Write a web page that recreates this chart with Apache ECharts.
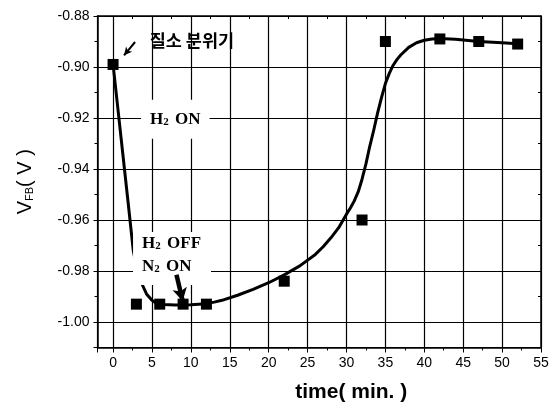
<!DOCTYPE html>
<html>
<head>
<meta charset="utf-8">
<script src="https://cdn.jsdelivr.net/npm/echarts@6/dist/echarts.min.js"></script>
<style>html,body{margin:0;padding:0;background:#fff}#c{width:553px;height:405px}</style>
</head>
<body>
<div id="c"></div>
<script>
// measured points
const timeMin = [0, 3, 6, 9, 12, 22, 32, 35, 42, 47, 52];
const vfb = [-0.899, -0.993, -0.993, -0.993, -0.993, -0.984, -0.960, -0.890, -0.889, -0.890, -0.891];
// fitted curve
const fitT = [0, 1, 2, 2.6, 3.2, 3.7, 4.3, 5, 5.6, 6.5, 8, 10, 12, 13, 14, 16, 18, 20, 22, 24, 26, 27, 28, 29, 30, 30.5, 31, 31.5, 32, 32.5, 33, 33.5, 34, 34.5, 35, 35.5, 36, 36.5, 37, 38, 39, 40, 41, 42, 44, 47, 50, 52];
const fitV = [-0.899, -0.927, -0.955, -0.972, -0.981, -0.985, -0.989, -0.9915, -0.9928, -0.9931, -0.9933, -0.9932, -0.9928, -0.9922, -0.9915, -0.9895, -0.9872, -0.9846, -0.9815, -0.978, -0.9735, -0.9705, -0.967, -0.963, -0.9577, -0.9553, -0.9525, -0.949, -0.944, -0.938, -0.931, -0.9248, -0.918, -0.912, -0.9065, -0.9025, -0.8993, -0.897, -0.8952, -0.8923, -0.8905, -0.8895, -0.889, -0.8888, -0.8891, -0.8900, -0.8905, -0.8909];
// axes
const xMin = -2, xMax = 55, xStep = 5;
const yMin = -1.01, yMax = -0.88, yStep = 0.02;
// annotation anchors (data space)
const noteN2Atm = { text: '질소 분위기', at: [4.7, -0.8895] };
const noteH2On = { at: [8.0, -0.9205] };
const noteH2Off = { at: [2.57, -0.9647] };
const arrowN2Atm = [[2.83, -0.8902], [1.41, -0.8954]];
const arrowN2On = [[8.15, -0.9815], [8.95, -0.9918]];

const pts = timeMin.map((t, i) => [t, vfb[i]]);
const fit = fitT.map((t, i) => [t, fitV[i]]);

const chart = echarts.init(document.getElementById('c'));
const axisFont = { fontFamily: 'Liberation Sans, Arial, sans-serif', fontSize: 14, color: '#000' };
const baseX = { type: 'value', min: xMin, max: xMax, minInterval: xStep, maxInterval: xStep };
const baseY = { type: 'value', min: yMin, max: yMax, minInterval: yStep, maxInterval: yStep };
const gridLine = { show: true, lineStyle: { color: '#000', width: 1.2 } };
chart.setOption({
  animation: false,
  backgroundColor: '#fff',
  grid: { left: 97.5, right: 12, top: 16, bottom: 57.5, containLabel: false, outerBoundsMode: 'none' },
  xAxis: [
    Object.assign({}, baseX, {
      position: 'bottom',
      name: 'time( min. )', nameLocation: 'middle', nameGap: 34,
      nameTextStyle: { fontFamily: 'Liberation Sans, Arial, sans-serif', fontWeight: 'bold', fontSize: 21, color: '#000', padding: [0, 0, 0, 64] },
      axisLine: { onZero: false, lineStyle: { color: '#000', width: 1.5 } },
      axisTick: { length: 5, lineStyle: { color: '#000', width: 1 } },
      minorTick: { show: true, splitNumber: 2, length: 3, lineStyle: { color: '#000' } },
      axisLabel: Object.assign({ margin: 9, showMinLabel: false }, axisFont),
      splitLine: gridLine
    }),
    Object.assign({}, baseX, {
      position: 'top',
      axisLine: { onZero: false, lineStyle: { color: '#000', width: 1.5 } },
      axisTick: { inside: true, length: 4, lineStyle: { color: '#000' } },
      minorTick: { show: true, splitNumber: 2, length: 3, lineStyle: { color: '#000' } },
      axisLabel: { show: false },
      splitLine: { show: false }
    })
  ],
  yAxis: [
    Object.assign({}, baseY, {
      position: 'left',
      name: '{v|V}{s|FB}{v|( V )}', nameLocation: 'middle', nameRotate: 90, nameGap: 62,
      nameTextStyle: {
        color: '#000',
        rich: {
          v: { fontFamily: 'Liberation Sans, Arial, sans-serif', fontSize: 20, color: '#000' },
          s: { fontFamily: 'Liberation Sans, Arial, sans-serif', fontSize: 11, color: '#000', verticalAlign: 'bottom', padding: [8, 0, 0, 0] }
        }
      },
      axisLine: { onZero: false, lineStyle: { color: '#000', width: 1.5 } },
      axisTick: { length: 4, lineStyle: { color: '#000', width: 1 } },
      minorTick: { show: true, splitNumber: 2, length: 3, lineStyle: { color: '#000' } },
      axisLabel: Object.assign({ margin: 8, showMinLabel: false, formatter: v => v.toFixed(2) }, axisFont),
      splitLine: gridLine
    }),
    Object.assign({}, baseY, {
      position: 'right',
      axisLine: { onZero: false, lineStyle: { color: '#000', width: 1.5 } },
      axisTick: { inside: true, length: 4, lineStyle: { color: '#000' } },
      minorTick: { show: true, splitNumber: 2, length: 3, lineStyle: { color: '#000' } },
      axisLabel: { show: false },
      splitLine: { show: false }
    })
  ],
  series: [
    {
      name: 'fit', type: 'line', data: fit, showSymbol: false, symbol: 'none',
      smooth: false,
      lineStyle: { color: '#000', width: 3, join: 'round', cap: 'round' }, z: 3,
      markLine: {
        silent: true, animation: false, z: 6,
        label: { show: false },
        data: [
          [
            { coord: arrowN2Atm[0], symbol: 'none', lineStyle: { color: '#000', width: 2, type: 'solid' } },
            { coord: arrowN2Atm[1], symbol: 'arrow', symbolSize: [6, 8] }
          ],
          [
            { coord: arrowN2On[0], symbol: 'none', lineStyle: { color: '#000', width: 4.5, type: 'solid' } },
            { coord: arrowN2On[1], symbol: 'arrow', symbolSize: [11, 13] }
          ]
        ]
      }
    },
    {
      name: 'VFB', type: 'scatter', data: pts, symbol: 'rect', symbolSize: 11,
      itemStyle: { color: '#000', opacity: 1 }, z: 5
    }
  ]
});

function px(p) { return chart.convertToPixel({ xAxisIndex: 0, yAxisIndex: 0 }, p); }
const serif = 'Liberation Serif, Times New Roman, serif';
const richChem = {
  b: { fontFamily: serif, fontWeight: 'bold', fontSize: 17, color: '#000', lineHeight: 23 },
  s: { fontFamily: serif, fontWeight: 'bold', fontSize: 11, color: '#000', lineHeight: 11, verticalAlign: 'middle', padding: [6, 2, 0, 0] }
};
const p1 = px(noteN2Atm.at), p2 = px(noteH2On.at), p3 = px(noteH2Off.at);
chart.setOption({
  graphic: [
    {
      type: 'text', z: 4, x: p1[0], y: p1[1],
      style: { text: noteN2Atm.text, fontFamily: 'Noto Sans CJK KR, sans-serif', fontWeight: 'bold', fontSize: 17.5, fill: '#000', align: 'left', verticalAlign: 'middle' }
    },
    {
      type: 'text', z: 4, x: p2[0], y: p2[1],
      style: {
        text: '{b|H}{s|2}{b| ON}', rich: richChem, align: 'center', verticalAlign: 'middle',
        backgroundColor: '#fff', padding: [8, 9, 8, 9]
      }
    },
    {
      type: 'text', z: 4, x: p3[0], y: p3[1],
      style: {
        text: '{b|H}{s|2}{b| OFF}\n{b|N}{s|2}{b| ON}', rich: richChem, align: 'left', verticalAlign: 'top',
        backgroundColor: '#fff', padding: [0, 10, 7, 9]
      }
    }
  ]
});
</script>
</body>
</html>
